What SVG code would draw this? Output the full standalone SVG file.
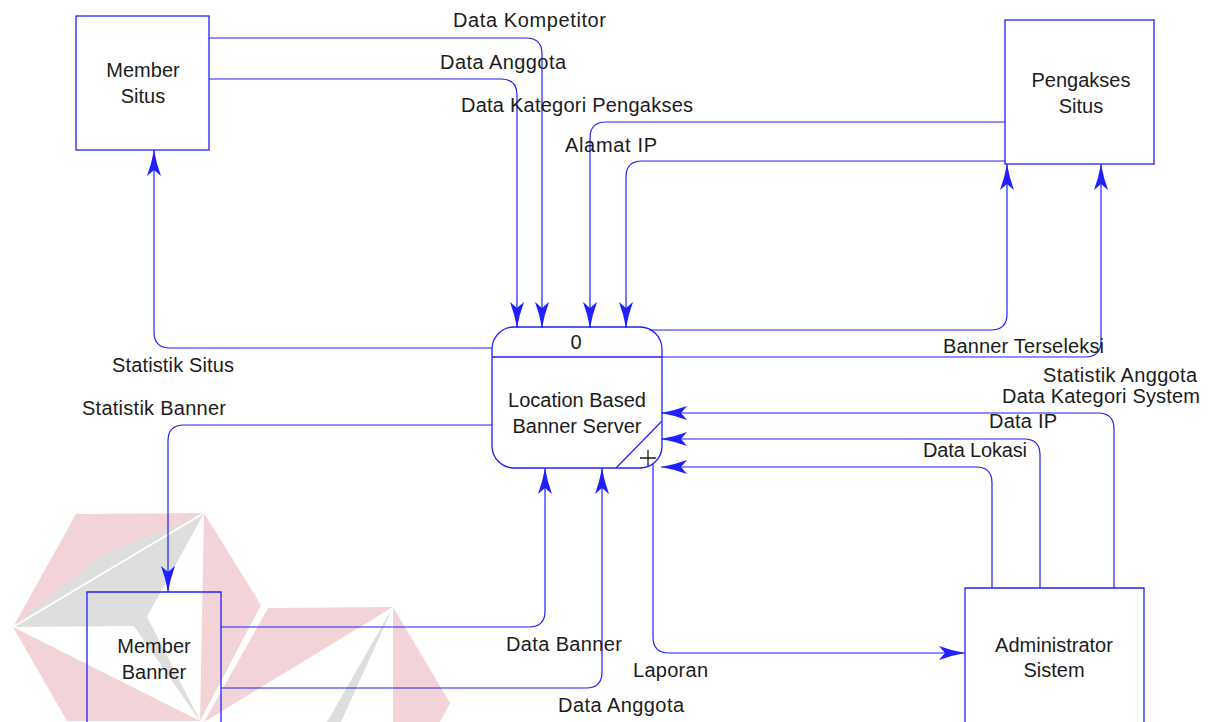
<svg xmlns="http://www.w3.org/2000/svg" width="1213" height="722" viewBox="0 0 1213 722">
  <defs>
    <style>
      .box { fill: none; stroke: #1f1fff; stroke-width: 1.3; }
      .flow { fill: none; stroke: #1f1fff; stroke-width: 1.2; marker-end: url(#arrow); }
      .lbl { font-family: "Liberation Sans", Arial, sans-serif; font-size: 20px; fill: #1c1c1c; }
      .mid { text-anchor: middle; }
      .wm-pink { fill: #f2d4d8; }
      .wm-grey { fill: #dedede; }
      .wm-white { fill: #ffffff; }
    </style>
    <marker id="arrow" markerUnits="userSpaceOnUse" markerWidth="28" markerHeight="14" refX="26" refY="7" orient="auto">
      <path d="M26,7 Q12,4.5 0,0 L6,7 L0,14 Q12,9.5 26,7 Z" fill="#1f1fff"/>
    </marker>
  </defs>

  <rect x="0" y="0" width="1213" height="722" fill="#ffffff"/>

  <!-- faint logo mark behind the lower-left area -->
  <g id="watermark">
    <polygon class="wm-pink" points="76,514 204,513 261,605 200,721 67,721 13,627"/>
    <polygon class="wm-grey" points="13,627 100,557 204,513 147,617 134,626"/>
    <line x1="13" y1="627" x2="204" y2="513" stroke="#ffffff" stroke-width="2"/>
    <polygon class="wm-white" points="13,627 134,626 200,721"/>
    <polygon class="wm-white" points="204,513 147,617 200,721"/>
    <polygon class="wm-grey" points="134,626 147,617 200,721"/>
    <polygon class="wm-pink" points="268,608 393,607 204,722"/>
    <polygon class="wm-grey" points="393,607 327,722 341,722"/>
    <polygon class="wm-pink" points="393,607 450,703 440,722 393,722"/>
  </g>

  <!-- data flows -->
  <g id="connectors">
    <path class="flow" d="M209,38 H526 Q542,38 542,54 V328"/>
    <path class="flow" d="M209,79 H501 Q517,79 517,95 V328"/>
    <path class="flow" d="M1005,122 H606 Q590,122 590,138 V328"/>
    <path class="flow" d="M1005,161 H642 Q626,161 626,177 V328"/>
    <path class="flow" d="M649,330 H991 Q1007,330 1007,314 V164"/>
    <path class="flow" d="M661,357 H1085 Q1101,357 1101,341 V164"/>
    <path class="flow" d="M492,348 H170 Q154,348 154,332 V150"/>
    <path class="flow" d="M492,425 H184 Q168,425 168,441 V592"/>
    <path class="flow" d="M221,627 H529 Q545,627 545,611 V468"/>
    <path class="flow" d="M221,688 H586 Q602,688 602,672 V468"/>
    <path class="flow" d="M653,464 V637 Q653,653 669,653 H965"/>
    <path class="flow" d="M1114,588 V429 Q1114,413 1098,413 H661"/>
    <path class="flow" d="M1040,588 V455 Q1040,439 1024,439 H661"/>
    <path class="flow" d="M992,588 V483 Q992,467 976,467 H661"/>
  </g>

  <!-- flow labels -->
  <g id="flow-labels">
    <text class="lbl" x="453" y="27" textLength="153">Data Kompetitor</text>
    <text class="lbl" x="440" y="69" textLength="126">Data Anggota</text>
    <text class="lbl" x="461" y="112" textLength="232">Data Kategori Pengakses</text>
    <text class="lbl" x="565" y="152" textLength="92">Alamat IP</text>
    <text class="lbl" x="112" y="372" textLength="122">Statistik Situs</text>
    <text class="lbl" x="82" y="415" textLength="144">Statistik Banner</text>
    <text class="lbl" x="943" y="353" textLength="161">Banner Terseleksi</text>
    <text class="lbl" x="1043" y="382" textLength="154">Statistik Anggota</text>
    <text class="lbl" x="1002" y="403" textLength="198">Data Kategori System</text>
    <text class="lbl" x="989" y="428" textLength="68">Data IP</text>
    <text class="lbl" x="923" y="457" textLength="104">Data Lokasi</text>
    <text class="lbl" x="506" y="651" textLength="116">Data Banner</text>
    <text class="lbl" x="633" y="677" textLength="75">Laporan</text>
    <text class="lbl" x="558" y="712" textLength="126">Data Anggota</text>
  </g>

  <g id="member-situs">
    <rect class="box" x="76" y="16" width="133" height="134"/>
    <text class="lbl mid" x="143" y="77">Member</text>
    <text class="lbl mid" x="143" y="103">Situs</text>
  </g>

  <g id="pengakses-situs">
    <rect class="box" x="1005" y="20" width="149" height="144"/>
    <text class="lbl mid" x="1081" y="87">Pengakses</text>
    <text class="lbl mid" x="1081" y="113">Situs</text>
  </g>

  <g id="process-0">
    <rect class="box" x="492" y="327" width="170" height="141" rx="22" ry="22"/>
    <line x1="492" y1="357" x2="662" y2="357" stroke="#1f1fff" stroke-width="1.3"/>
    <line x1="662" y1="421" x2="616" y2="468" stroke="#1f1fff" stroke-width="1.2"/>
    <path d="M640,458 H656 M648,450 V466" stroke="#1c1c1c" stroke-width="1.3" fill="none"/>
    <text class="lbl mid" x="576" y="349">0</text>
    <text class="lbl mid" x="577" y="407">Location Based</text>
    <text class="lbl mid" x="577" y="433">Banner Server</text>
  </g>

  <g id="member-banner">
    <path class="box" d="M87,722 V592 H221 V722"/>
    <text class="lbl mid" x="154" y="653">Member</text>
    <text class="lbl mid" x="154" y="679">Banner</text>
  </g>

  <g id="administrator-sistem">
    <path class="box" d="M965,722 V588 H1144 V722"/>
    <text class="lbl mid" x="1054" y="652">Administrator</text>
    <text class="lbl mid" x="1054" y="677">Sistem</text>
  </g>
</svg>
